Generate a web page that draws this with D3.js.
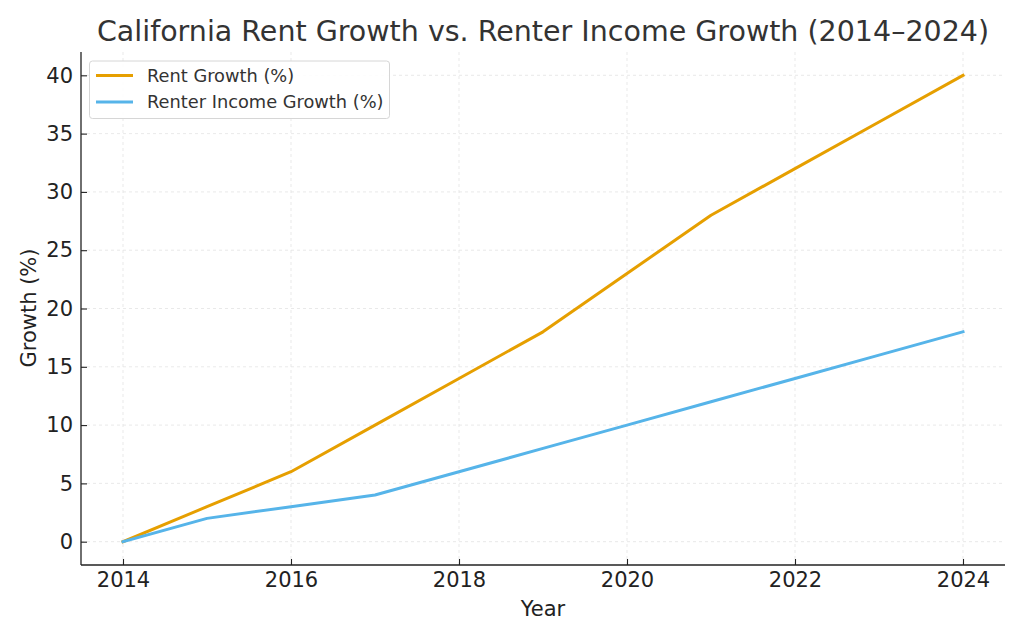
<!DOCTYPE html>
<html><head><meta charset="utf-8">
<script src="https://cdn.jsdelivr.net/npm/d3@7"></script>
<style>
body{margin:0;background:#fff;}
svg{font-family:"DejaVu Sans",sans-serif;}
</style></head>
<body>
<svg id="c" width="1024" height="640"></svg>
<script>
const years = [2014,2015,2016,2017,2018,2019,2020,2021,2022,2023,2024];
const rentGrowth = [0,3,6,10,14,18,23,28,32,36,40];
const incomeGrowth = [0,2,3,4,6,8,10,12,14,16,18];
const xTicks = [2014,2016,2018,2020,2022,2024];
const yTicks = [0,5,10,15,20,25,30,35,40];
const seriesNames = ["Rent Growth (%)","Renter Income Growth (%)"];
const seriesColors = ["#E69F00","#56B4E9"];

const svg = d3.select("#c");
const L=81,R=1005,T=52,B=565;
const x = d3.scaleLinear().domain([2013.5,2024.5]).range([L,R]);
const y = d3.scaleLinear().domain([-2,42]).range([B,T]);

// grid
const g = svg.append("g");
g.selectAll(".gx").data(xTicks).enter().append("line")
 .attr("x1",d=>x(d)).attr("x2",d=>x(d)).attr("y1",T).attr("y2",B)
 .attr("stroke","#e3e3e3").attr("stroke-width",0.8).attr("stroke-dasharray","3,3");
g.selectAll(".gy").data(yTicks).enter().append("line")
 .attr("y1",d=>y(d)).attr("y2",d=>y(d)).attr("x1",L).attr("x2",R)
 .attr("stroke","#e3e3e3").attr("stroke-width",0.8).attr("stroke-dasharray","3,3");

// axes (ticks pointing inward)
const xa = svg.append("g").attr("transform",`translate(0,${B})`)
 .call(d3.axisBottom(x).tickValues(xTicks).tickFormat(d3.format("d")).tickSize(-6).tickPadding(7));
const ya = svg.append("g").attr("transform",`translate(${L},0)`)
 .call(d3.axisLeft(y).tickValues(yTicks).tickSize(-6).tickPadding(8));
[xa,ya].forEach(a=>{
  a.attr("font-size",21).attr("font-family","DejaVu Sans");
  a.select(".domain").attr("stroke","#222").attr("stroke-width",1.3);
  a.selectAll(".tick line").attr("stroke","#222").attr("stroke-width",1.1);
  a.selectAll(".tick text").attr("fill","#222");
});
xa.select(".domain").attr("d",`M${L},0H${R}`);
ya.select(".domain").attr("d",`M0,${T}V${B}`);

// lines
const line = d3.line().x((d,i)=>x(years[i])).y(d=>y(d));
[rentGrowth,incomeGrowth].forEach((s,k)=>{
  svg.append("path").datum(s).attr("d",line).attr("fill","none")
   .attr("stroke",seriesColors[k]).attr("stroke-width",3).attr("stroke-linejoin","round").attr("stroke-linecap","square");
});

// title & labels
svg.append("text").attr("x",543).attr("y",41).attr("text-anchor","middle")
 .attr("font-size",28.5).attr("fill","#333").text("California Rent Growth vs. Renter Income Growth (2014–2024)");
svg.append("text").attr("x",543).attr("y",616).attr("text-anchor","middle")
 .attr("font-size",21).attr("fill","#222").text("Year");
svg.append("text").attr("transform","translate(36,308) rotate(-90)").attr("text-anchor","middle")
 .attr("font-size",21).attr("fill","#222").text("Growth (%)");

// legend
const lg = svg.append("g");
lg.append("rect").attr("x",89.5).attr("y",61).attr("width",300).attr("height",57.5).attr("rx",3)
 .attr("fill","#fff").attr("fill-opacity",0.85).attr("stroke","#d6d6d6").attr("stroke-width",1);
seriesNames.forEach((n,i)=>{
  const yy = 75.5 + i*26.5;
  lg.append("line").attr("x1",96).attr("x2",133).attr("y1",yy).attr("y2",yy)
   .attr("stroke",seriesColors[i]).attr("stroke-width",3);
  lg.append("text").attr("x",147).attr("y",yy+6.3).attr("font-size",17.8).attr("fill","#333").text(n);
});
</script>
</body></html>
